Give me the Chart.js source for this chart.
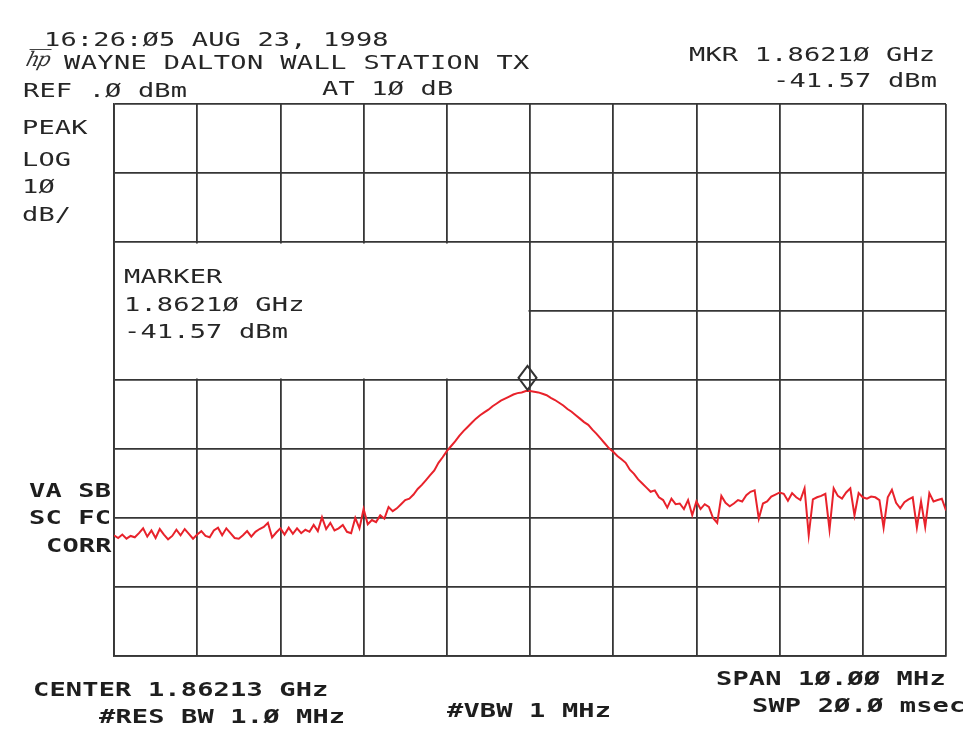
<!DOCTYPE html>
<html>
<head>
<meta charset="utf-8">
<title>Wayne Dalton Wall Station TX - spectrum</title>
<script src="https://cdn.jsdelivr.net/npm/chart.js@4.4.1/dist/chart.umd.min.js"></script>
<style>
  html, body { margin: 0; padding: 0; background: #fff; }
  #wrap { position: relative; width: 980px; height: 742px; overflow: hidden; background: #fff; }
  #chart { position: absolute; left: 0; top: 0; }
  .t {
    position: absolute;
    font-family: "DejaVu Sans Mono", monospace;
    font-size: 20px;
    line-height: 20px;
    letter-spacing: 0.12px;
    color: #262626;
    white-space: pre;
    transform: scaleX(1.35);
    transform-origin: 0 50%;
  }
  .b { font-weight: bold; color: #1e1e1e; }
  .hp {
    position: absolute;
    left: 27px;
    top: 49px;
    font-family: "DejaVu Serif", serif;
    font-style: italic;
    font-size: 20px;
    line-height: 19px;
    letter-spacing: -2px;
    color: #333;
    border-top: 1.5px solid #444;
    transform: skewX(-15deg);
  }
</style>
</head>
<body>
<div id="wrap">
  <canvas id="chart" width="980" height="742"></canvas>

  <div class="t" style="left:44px;top:29px">16:26:Ø5 AUG 23, 1998</div>
  <div class="hp">hp</div>
  <div class="t" style="left:64px;top:52px;letter-spacing:0.28px">WAYNE DALTON WALL STATION TX</div>
  <div class="t" style="left:23px;top:80px">REF .Ø dBm</div>
  <div class="t" style="left:322px;top:78px">AT 1Ø dB</div>
  <div class="t" style="left:689px;top:44px">MKR 1.8621Ø GHz</div>
  <div class="t" style="left:773px;top:70px">-41.57 dBm</div>

  <div class="t" style="left:22px;top:117px">PEAK</div>
  <div class="t" style="left:22px;top:149px">LOG</div>
  <div class="t" style="left:22px;top:176px">1Ø</div>
  <div class="t" style="left:22px;top:204px">dB/</div>

  <div class="t" style="left:124px;top:266px">MARKER</div>
  <div class="t" style="left:124px;top:294px">1.8621Ø GHz</div>
  <div class="t" style="left:124px;top:321px">-41.57 dBm</div>

  <div class="t b" style="left:29px;top:480px">VA SB</div>
  <div class="t b" style="left:29px;top:507px">SC FC</div>
  <div class="t b" style="left:46px;top:535px">CORR</div>

  <div class="t b" style="left:33px;top:679px">CENTER 1.86213 GHz</div>
  <div class="t b" style="left:99px;top:706px">#RES BW 1.Ø MHz</div>
  <div class="t b" style="left:447px;top:700px">#VBW 1 MHz</div>
  <div class="t b" style="left:716px;top:668px">SPAN 1Ø.ØØ MHz</div>
  <div class="t b" style="left:752px;top:695px">SWP 2Ø.Ø msec</div>
</div>

<script>
// analyzer settings
const centerGHz = 1.86213;
const spanGHz = 0.010;
const refLevelDbm = 0;
const dbPerDiv = 10;
const numDivsY = 8;
const numDivsX = 10;
const markerGHz = 1.86210;
const markerDbm = -41.57;

// trace, one value per sweep point, left to right (dBm)
const traceDbm = [
  -62.5, -62.9, -62.4, -63.0, -62.6, -62.8, -62.2, -61.5, -62.7, -61.8,
  -62.9, -61.6, -62.4, -63.1, -62.6, -61.7, -62.5, -61.6, -62.3, -63.0,
  -62.4, -61.9, -62.6, -62.8, -61.8, -61.4, -62.5, -61.5, -62.2, -62.9,
  -63.0, -62.5, -61.9, -62.7, -62.0, -61.6, -61.3, -60.7, -62.8, -62.1,
  -61.5, -62.4, -61.4, -62.3, -61.5, -62.2, -61.7, -62.0, -61.0, -61.9,
  -59.9, -61.6, -60.7, -61.8, -61.5, -61.0, -62.0, -62.2, -60.0, -61.5,
  -58.7, -60.9, -60.3, -60.6, -59.6, -60.1, -58.4, -59.0, -58.6, -58.0,
  -57.4, -57.2, -56.6, -55.8, -55.2, -54.5, -53.8, -53.1, -52.0, -51.2,
  -50.3, -49.6, -48.9, -48.1, -47.4, -46.8, -46.2, -45.6, -45.1, -44.7,
  -44.3, -43.8, -43.4, -43.0, -42.7, -42.4, -42.1, -41.9, -41.8, -41.6,
  -41.6, -41.7, -41.8, -42.0, -42.2, -42.6, -42.9, -43.3, -43.7, -44.2,
  -44.6, -45.1, -45.6, -46.1, -46.5, -47.2, -47.8, -48.5, -49.2, -49.9,
  -50.4, -51.0, -51.5, -52.0, -53.0, -53.6, -54.4, -55.0, -55.6, -56.2,
  -56.0, -57.0, -57.4, -58.5, -57.2, -58.0, -57.9, -58.7, -57.4, -59.6,
  -57.6, -58.7, -58.0, -58.4, -60.0, -60.7, -56.8, -57.8, -58.3, -57.9,
  -57.4, -57.6, -56.7, -56.2, -56.0, -60.1, -57.9, -57.6, -56.9, -56.6,
  -56.3, -56.5, -57.5, -56.4, -57.0, -57.4, -55.7, -62.5, -57.3, -57.0,
  -56.8, -56.5, -61.7, -55.7, -56.8, -57.2, -56.3, -55.7, -59.6, -56.4,
  -57.0, -57.2, -56.9, -57.0, -57.4, -61.4, -57.0, -55.9, -57.8, -58.6,
  -57.7, -57.3, -57.0, -61.4, -57.6, -61.3, -56.4, -57.6, -57.4, -57.2,
  -58.9
];

const startGHz = centerGHz - spanGHz / 2;
const stopGHz = centerGHz + spanGHz / 2;
const stepGHz = spanGHz / (traceDbm.length - 1);
const bottomDbm = refLevelDbm - dbPerDiv * numDivsY;

const tracePoints = traceDbm.map((v, i) => ({ x: startGHz + i * stepGHz, y: v }));
const xGrid = [];
for (let k = 0; k <= numDivsX; k++) xGrid.push(startGHz + k * spanGHz / numDivsX);

const gridColor = '#363636';

// white panel behind the marker readout, and the diamond above the peak
const markerPlugin = {
  id: 'markerPlugin',
  beforeDatasetsDraw(chart) {
    const { ctx, chartArea, scales: { x, y } } = chart;
    const right = x.getPixelForValue(centerGHz);
    const top = y.getPixelForValue(-20);
    const bottom = y.getPixelForValue(-40);
    ctx.save();
    ctx.fillStyle = '#fff';
    ctx.fillRect(chartArea.left + 1, top + 1.5, right - chartArea.left - 2.5, bottom - top - 3);
    ctx.restore();
  },
  afterDatasetsDraw(chart) {
    const { ctx, scales: { x, y } } = chart;
    const px = x.getPixelForValue(markerGHz);
    const py = y.getPixelForValue(markerDbm) - 1;
    ctx.save();
    ctx.strokeStyle = '#333';
    ctx.lineWidth = 2;
    ctx.beginPath();
    ctx.moveTo(px, py);
    ctx.lineTo(px + 9, py - 12);
    ctx.lineTo(px, py - 24);
    ctx.lineTo(px - 9, py - 12);
    ctx.closePath();
    ctx.stroke();
    ctx.restore();
  }
};

const chart = new Chart(document.getElementById('chart').getContext('2d'), {
  type: 'line',
  data: {
    datasets: [{
      data: tracePoints,
      borderColor: '#e8222b',
      borderWidth: 2,
      pointRadius: 0,
      tension: 0,
      fill: false
    }]
  },
  options: {
    responsive: false,
    animation: false,
    layout: { padding: { left: 114, right: 34, top: 104, bottom: 86 } },
    plugins: {
      legend: { display: false },
      tooltip: { enabled: false }
    },
    scales: {
      x: {
        type: 'linear',
        min: startGHz,
        max: stopGHz,
        afterBuildTicks: axis => { axis.ticks = xGrid.map(v => ({ value: v })); },
        ticks: { display: false },
        grid: { color: gridColor, lineWidth: 1.8, drawTicks: false },
        border: { color: gridColor, width: 1.8 }
      },
      y: {
        min: bottomDbm,
        max: refLevelDbm,
        ticks: { display: false, stepSize: dbPerDiv },
        grid: { color: gridColor, lineWidth: 1.8, drawTicks: false },
        border: { color: gridColor, width: 1.8 }
      }
    }
  },
  plugins: [markerPlugin]
});
</script>
</body>
</html>
